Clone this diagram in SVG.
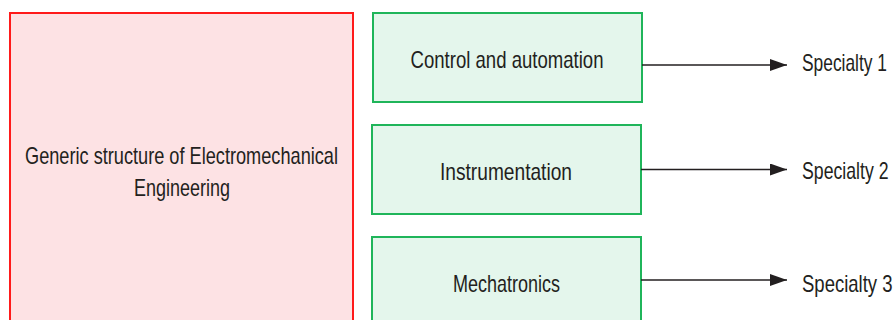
<svg xmlns="http://www.w3.org/2000/svg" width="895" height="320" viewBox="0 0 895 320">
<style>
.t{font-family:"Liberation Sans",Arial,sans-serif;font-size:24px;fill:#231f20}
.main{fill:#fde2e4;stroke:#ff1a1a;stroke-width:2}
.sub{fill:#e4f6ec;stroke:#1fb55a;stroke-width:2}
.conn{stroke:#231f20;stroke-width:1.6;fill:none}
</style>
<defs>
<marker id="ah" markerUnits="userSpaceOnUse" markerWidth="18" markerHeight="14" refX="17" refY="6" orient="auto">
<polygon points="0,0 17,6 0,12" fill="#231f20"/>
</marker>
</defs>
<rect width="895" height="320" fill="#ffffff"/>
<g id="node-generic">
<rect class="main" x="10" y="13" width="343" height="330"/>
<text class="t" x="181.5" y="164" text-anchor="middle" textLength="313" lengthAdjust="spacingAndGlyphs">Generic structure of Electromechanical</text>
<text class="t" x="182" y="196" text-anchor="middle" textLength="96" lengthAdjust="spacingAndGlyphs">Engineering</text>
</g>
<g id="node-control">
<rect class="sub" x="373" y="13" width="269" height="89"/>
<text class="t" x="507" y="68" text-anchor="middle" textLength="193" lengthAdjust="spacingAndGlyphs">Control and automation</text>
</g>
<g id="node-instrumentation">
<rect class="sub" x="372" y="125" width="269" height="89"/>
<text class="t" x="506" y="180" text-anchor="middle" textLength="132" lengthAdjust="spacingAndGlyphs">Instrumentation</text>
</g>
<g id="node-mechatronics">
<rect class="sub" x="372" y="237" width="269" height="100"/>
<text class="t" x="506.5" y="292" text-anchor="middle" textLength="107" lengthAdjust="spacingAndGlyphs">Mechatronics</text>
</g>
<g id="node-specialty1" transform="translate(802,71) scale(0.73,1)">
<text class="t" x="0" y="0" textLength="116.4" lengthAdjust="spacingAndGlyphs">Specialty 1</text>
</g>
<g id="node-specialty2" transform="translate(802,179) scale(0.73,1)">
<text class="t" x="0" y="0" textLength="118.5" lengthAdjust="spacingAndGlyphs">Specialty 2</text>
</g>
<g id="node-specialty3" transform="translate(802,292) scale(0.73,1)">
<text class="t" x="0" y="0" textLength="124" lengthAdjust="spacingAndGlyphs">Specialty 3</text>
</g>
<g id="connectors">
<line class="conn" x1="642" y1="65" x2="787" y2="65" marker-end="url(#ah)"/>
<line class="conn" x1="641" y1="169.5" x2="787" y2="169.5" marker-end="url(#ah)"/>
<line class="conn" x1="641" y1="280" x2="787" y2="280" marker-end="url(#ah)"/>
</g>
</svg>
